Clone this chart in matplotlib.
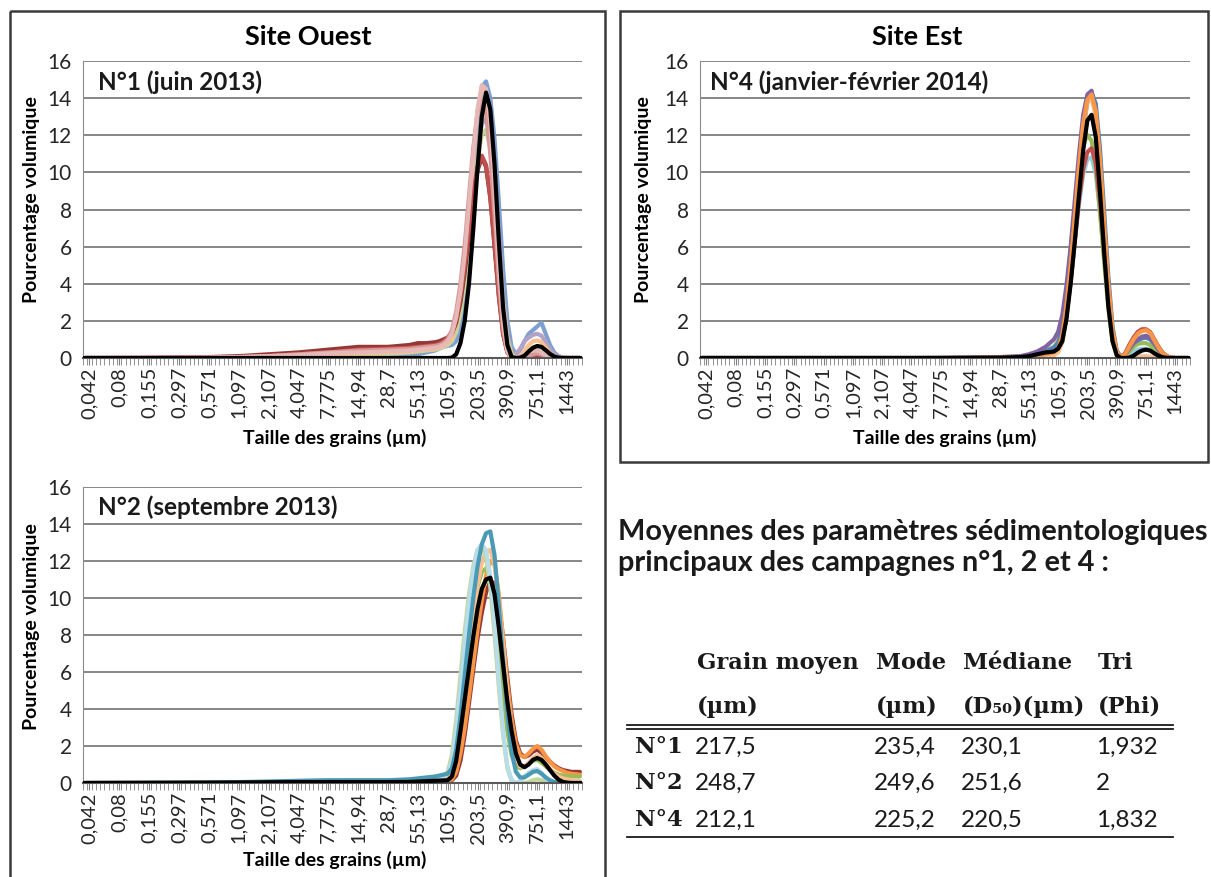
import matplotlib
matplotlib.use("Agg")
import matplotlib.pyplot as plt
from matplotlib.patches import Rectangle

W, H = 1211, 877
plt.rcParams["font.family"] = ["Lato", "DejaVu Sans"]

# grain-size classes on the x axis: 117 classes, one label every 7 classes
size_labels = ["0,042", "0,08", "0,155", "0,297", "0,571", "1,097", "2,107", "4,047",
               "7,775", "14,94", "28,7", "55,13", "105,9", "203,5", "390,9", "751,1", "1443"]
n_classes = 117
label_pos = [1 + 7 * k for k in range(len(size_labels))]

# class indices where the curves are sampled
knots = [0, 15, 29, 36, 43, 50, 57, 64, 71, 76, 78, 80,
         82, 83, 84, 85, 86, 87, 88, 89, 90, 91, 92, 93, 94, 95, 96, 97, 98, 99,
         100, 101, 102, 103, 104, 105, 106, 107, 108, 109, 110, 111, 112, 113, 114, 116]

# --- campagne n°1 (juin 2013), site ouest ---
c1_colors = ["#7F9FCF", "#B3A2C7", "#C3D69B", "#FAC090", "#953735", "#C0504D", "#D99694", "#E6B9B8"]
c1_series = [
    [0, 0, 0, 0, 0.01, 0.02, 0.05, 0.08, 0.1, 0.15, 0.2, 0.3, 0.4, 0.5,
     0.6, 0.65, 0.7, 0.9, 1.6, 3.0, 5.2, 8.2, 11.6, 14.6, 14.9, 14.0, 11.8, 8.4, 4.8, 2.0, 0.6, 0.2, 0.4, 0.9, 1.3, 1.5, 1.7, 1.9, 1.3, 0.7, 0.3, 0.1, 0.03, 0, 0, 0],
    [0, 0, 0, 0.01, 0.02, 0.05, 0.1, 0.15, 0.2, 0.3, 0.4, 0.5, 0.6, 0.7,
     0.8, 0.9, 1.1, 1.6, 2.6, 4.3, 6.6, 9.0, 11.2, 12.6, 12.9, 12.0, 9.8, 6.6, 3.5, 1.3, 0.3, 0.2, 0.5, 0.9, 1.1, 1.25, 1.3, 1.2, 0.85, 0.45, 0.2, 0.06, 0.02, 0, 0, 0],
    [0, 0, 0, 0.02, 0.05, 0.08, 0.12, 0.18, 0.22, 0.3, 0.35, 0.4, 0.45, 0.5,
     0.6, 0.7, 0.9, 1.4, 2.4, 4.0, 6.2, 8.6, 10.7, 12.0, 12.3, 11.3, 9.0, 5.9, 3.0, 1.0, 0.2, 0, 0.1, 0.3, 0.45, 0.55, 0.6, 0.55, 0.35, 0.15, 0.05, 0, 0, 0, 0, 0],
    [0, 0, 0.02, 0.04, 0.08, 0.12, 0.2, 0.25, 0.3, 0.35, 0.4, 0.45, 0.5, 0.55,
     0.65, 0.8, 1.1, 1.9, 3.3, 5.3, 8.0, 10.9, 13.3, 14.5, 14.3, 12.5, 9.2, 5.4, 2.3, 0.6, 0.05, 0, 0.1, 0.4, 0.7, 0.9, 0.95, 0.85, 0.55, 0.25, 0.08, 0.02, 0, 0, 0, 0],
    [0, 0.01, 0.05, 0.1, 0.2, 0.3, 0.45, 0.6, 0.6, 0.7, 0.8, 0.8, 0.85, 0.9,
     1.0, 1.1, 1.3, 1.9, 3.0, 4.6, 6.6, 8.6, 10.1, 10.8, 10.3, 8.6, 6.0, 3.3, 1.3, 0.3, 0, 0, 0, 0, 0.03, 0.08, 0.1, 0.06, 0.02, 0, 0, 0, 0, 0, 0, 0],
    [0, 0, 0.03, 0.06, 0.12, 0.2, 0.3, 0.45, 0.5, 0.55, 0.6, 0.65, 0.7, 0.75,
     0.9, 1.1, 1.4, 2.1, 3.3, 5.0, 7.0, 8.9, 10.3, 10.9, 10.4, 8.7, 6.1, 3.4, 1.3, 0.3, 0, 0, 0, 0, 0.05, 0.15, 0.2, 0.15, 0.05, 0, 0, 0, 0, 0, 0, 0],
    [0, 0, 0.02, 0.05, 0.1, 0.2, 0.3, 0.4, 0.45, 0.5, 0.55, 0.6, 0.65, 0.7,
     0.8, 1.0, 1.5, 2.5, 4.0, 6.1, 8.7, 11.3, 13.2, 13.9, 13.2, 11.0, 7.7, 4.2, 1.6, 0.3, 0, 0, 0, 0.02, 0.1, 0.2, 0.25, 0.2, 0.1, 0.03, 0, 0, 0, 0, 0, 0],
    [0, 0, 0.02, 0.05, 0.1, 0.15, 0.25, 0.3, 0.35, 0.4, 0.45, 0.5, 0.55, 0.6,
     0.7, 0.9, 1.3, 2.2, 3.6, 5.6, 8.2, 11.0, 13.4, 14.7, 14.5, 12.6, 9.0, 5.0, 1.9, 0.4, 0, 0, 0.05, 0.2, 0.35, 0.4, 0.4, 0.3, 0.15, 0.05, 0.02, 0, 0, 0, 0, 0],
]
c1_mean = [0, 0, 0, 0, 0, 0, 0, 0, 0, 0, 0, 0, 0, 0, 0, 0, 0.02, 0.2, 0.8, 2.0, 4.0, 6.9, 10.2, 13.0, 14.3, 13.4, 10.4, 6.3, 2.7, 0.7, 0.05, 0, 0.02, 0.12, 0.35, 0.55, 0.65, 0.6, 0.42, 0.22, 0.08, 0.02, 0, 0, 0, 0]

# --- campagne n°2 (septembre 2013), site ouest ---
c2_colors = ["#953735", "#F79646", "#9BBB59", "#FAC090", "#C3D69B", "#B7DEE8", "#4A9AB5"]
c2_series = [
    [0, 0, 0, 0.01, 0.02, 0.03, 0.04, 0.04, 0.04, 0.05, 0.05, 0.06, 0.07, 0.08, 0.08, 0.1, 0.15, 0.4, 1.2, 2.6, 4.3, 6.1, 7.8, 9.2, 10.3, 10.9, 10.8, 9.7, 7.8, 5.7, 3.7, 2.3, 1.6, 1.4, 1.5, 1.7, 1.8, 1.65, 1.4, 1.15, 0.95, 0.8, 0.7, 0.65, 0.6, 0.6],
    [0, 0, 0.01, 0.02, 0.03, 0.04, 0.05, 0.05, 0.05, 0.05, 0.06, 0.07, 0.08, 0.09, 0.1, 0.1, 0.2, 0.6, 1.6, 3.0, 4.7, 6.5, 8.3, 9.9, 11.2, 12.0, 11.8, 10.2, 7.8, 5.4, 3.4, 2.1, 1.5, 1.4, 1.6, 1.85, 2.0, 1.8, 1.45, 1.15, 0.9, 0.75, 0.65, 0.55, 0.5, 0.45],
    [0, 0.01, 0.02, 0.03, 0.05, 0.07, 0.1, 0.12, 0.12, 0.15, 0.2, 0.22, 0.25, 0.28, 0.3, 0.35, 0.7, 1.8, 3.6, 5.6, 7.6, 9.3, 10.6, 11.4, 11.6, 11.0, 9.4, 7.2, 4.8, 2.8, 1.5, 0.9, 0.8, 0.9, 1.05, 1.2, 1.25, 1.1, 0.9, 0.7, 0.55, 0.45, 0.4, 0.38, 0.36, 0.35],
    [0, 0.01, 0.02, 0.03, 0.05, 0.08, 0.1, 0.12, 0.12, 0.15, 0.18, 0.2, 0.25, 0.28, 0.3, 0.3, 0.5, 1.3, 3.0, 5.0, 7.1, 9.0, 10.7, 11.9, 12.5, 12.6, 11.8, 9.9, 7.4, 4.8, 2.7, 1.4, 0.9, 0.9, 1.1, 1.35, 1.5, 1.35, 1.05, 0.75, 0.5, 0.35, 0.25, 0.2, 0.15, 0.1],
    [0, 0.01, 0.02, 0.04, 0.06, 0.1, 0.12, 0.12, 0.12, 0.15, 0.2, 0.25, 0.3, 0.35, 0.4, 0.6, 1.5, 3.4, 5.8, 8.2, 10.2, 11.7, 12.6, 12.8, 12.2, 10.6, 8.0, 5.2, 2.6, 0.8, 0.1, 0, 0, 0, 0.05, 0.15, 0.2, 0.15, 0.05, 0, 0, 0, 0, 0, 0, 0],
    [0, 0.01, 0.02, 0.03, 0.05, 0.08, 0.1, 0.1, 0.1, 0.12, 0.15, 0.2, 0.25, 0.3, 0.35, 0.5, 1.2, 2.9, 5.2, 7.6, 9.8, 11.5, 12.6, 12.9, 12.6, 11.2, 8.6, 5.6, 2.8, 0.9, 0.15, 0, 0.1, 0.35, 0.55, 0.7, 0.75, 0.55, 0.25, 0.08, 0.02, 0, 0, 0, 0, 0],
    [0, 0.01, 0.03, 0.05, 0.08, 0.12, 0.15, 0.15, 0.15, 0.2, 0.25, 0.3, 0.35, 0.4, 0.45, 0.5, 0.8, 1.8, 3.6, 5.8, 8.0, 10.0, 11.7, 12.9, 13.5, 13.6, 12.3, 9.6, 6.6, 3.8, 1.7, 0.6, 0.3, 0.3, 0.45, 0.6, 0.65, 0.5, 0.3, 0.15, 0.06, 0.02, 0, 0, 0, 0],
]
c2_mean = [0, 0.01, 0.02, 0.03, 0.04, 0.05, 0.05, 0.05, 0.05, 0.06, 0.08, 0.1, 0.12, 0.13, 0.14, 0.15, 0.35, 1.2, 2.8, 4.5, 6.2, 7.9, 9.4, 10.5, 11.0, 11.1, 10.2, 8.4, 6.4, 4.4, 2.8, 1.6, 1.0, 0.85, 1.0, 1.25, 1.35, 1.25, 1.0, 0.7, 0.4, 0.18, 0.06, 0.02, 0, 0]

# --- campagne n°4 (janvier-février 2014), site est ---
c4_colors = ["#93CDDD", "#9BBB59", "#C0504D", "#4F81BD", "#8064A2", "#FAC090", "#F79646"]
c4_series = [
    [0, 0, 0, 0, 0, 0, 0, 0, 0.01, 0.03, 0.06, 0.1, 0.18, 0.22, 0.28, 0.45, 1.1, 2.4, 4.2, 6.3, 8.3, 9.9, 10.7, 10.8, 9.9, 7.9, 5.4, 3.0, 1.1, 0.2, 0, 0.05, 0.2, 0.35, 0.45, 0.5, 0.5, 0.45, 0.3, 0.15, 0.05, 0.01, 0, 0, 0, 0],
    [0, 0, 0, 0, 0, 0, 0.01, 0.02, 0.04, 0.08, 0.15, 0.25, 0.4, 0.5, 0.6, 0.9, 1.9, 3.6, 5.8, 8.1, 10.1, 11.5, 12.0, 11.7, 10.3, 7.9, 5.2, 2.7, 0.9, 0.15, 0, 0.1, 0.35, 0.6, 0.75, 0.8, 0.8, 0.7, 0.5, 0.28, 0.12, 0.04, 0.01, 0, 0, 0],
    [0, 0, 0, 0, 0, 0, 0, 0, 0.01, 0.02, 0.05, 0.08, 0.12, 0.15, 0.2, 0.35, 0.9, 2.2, 4.1, 6.3, 8.5, 10.2, 11.1, 11.3, 10.5, 8.5, 5.9, 3.3, 1.3, 0.3, 0.05, 0.25, 0.7, 1.1, 1.4, 1.55, 1.55, 1.4, 1.0, 0.6, 0.28, 0.1, 0.03, 0, 0, 0],
    [0, 0, 0, 0, 0, 0, 0, 0.01, 0.03, 0.06, 0.12, 0.2, 0.35, 0.45, 0.55, 0.8, 1.5, 2.9, 4.9, 7.4, 10.0, 12.3, 13.8, 14.3, 13.7, 11.3, 7.9, 4.4, 1.7, 0.4, 0.05, 0.2, 0.5, 0.8, 0.95, 1.05, 1.1, 1.0, 0.75, 0.45, 0.2, 0.07, 0.02, 0, 0, 0],
    [0, 0, 0, 0, 0, 0, 0.01, 0.02, 0.05, 0.1, 0.2, 0.35, 0.6, 0.8, 1.0, 1.4, 2.3, 3.9, 6.0, 8.5, 11.0, 13.1, 14.2, 14.4, 13.2, 10.4, 7.0, 3.8, 1.4, 0.3, 0.1, 0.2, 0.5, 0.8, 1.0, 1.15, 1.2, 1.1, 0.8, 0.45, 0.2, 0.07, 0.02, 0, 0, 0],
    [0, 0, 0, 0, 0, 0, 0, 0, 0.01, 0.02, 0.04, 0.06, 0.1, 0.12, 0.15, 0.3, 0.9, 2.4, 4.6, 7.3, 10.0, 12.4, 13.8, 14.0, 13.0, 10.3, 6.8, 3.5, 1.1, 0.15, 0, 0, 0.02, 0.05, 0.08, 0.1, 0.1, 0.08, 0.05, 0.02, 0, 0, 0, 0, 0, 0],
    [0, 0, 0, 0, 0, 0, 0, 0.01, 0.02, 0.04, 0.08, 0.12, 0.2, 0.25, 0.3, 0.5, 1.2, 2.8, 5.0, 7.6, 10.3, 12.6, 13.9, 14.2, 13.3, 10.7, 7.3, 4.0, 1.5, 0.35, 0.05, 0.2, 0.6, 1.0, 1.3, 1.45, 1.5, 1.35, 0.95, 0.55, 0.25, 0.08, 0.02, 0, 0, 0],
]
c4_mean = [0, 0, 0, 0, 0, 0, 0, 0.01, 0.02, 0.05, 0.1, 0.2, 0.3, 0.32, 0.35, 0.5, 0.9, 2.1, 4.0, 6.3, 8.8, 11.2, 12.8, 13.1, 11.9, 9.0, 5.7, 2.8, 0.9, 0.15, 0, 0, 0.02, 0.12, 0.28, 0.4, 0.45, 0.4, 0.25, 0.12, 0.04, 0.01, 0, 0, 0, 0]

# summary table
table_cols = ["Grain moyen", "Mode", "Médiane", "Tri"]
table_units = ["(µm)", "(µm)", "(D₅₀)(µm)", "(Phi)"]
table_rows = ["N°1", "N°2", "N°4"]
table_vals = [["217,5", "235,4", "230,1", "1,932"],
              ["248,7", "249,6", "251,6", "2"],
              ["212,1", "225,2", "220,5", "1,832"]]

fig = plt.figure(figsize=(W / 100, H / 100), dpi=100)

# full-figure layer in pixel units for frames, titles and the table
ov = fig.add_axes([0, 0, 1, 1])
ov.set_xlim(0, W)
ov.set_ylim(H, 0)
ov.axis("off")


def add_chart(left, top, right, bottom, series, colors, mean):
    ax = fig.add_axes([left / W, 1 - bottom / H, (right - left) / W, (bottom - top) / H])
    ax.set_facecolor("none")
    for vals, col in zip(series, colors):
        ax.plot(knots, vals, color=col, lw=3.0, solid_joinstyle="round", solid_capstyle="round")
    ax.plot(knots, mean, color="black", lw=3.0, solid_joinstyle="round", zorder=5)
    ax.set_xlim(-0.5, n_classes - 0.5)
    ax.set_ylim(0, 16)
    ax.set_yticks(range(0, 17, 2))
    ax.yaxis.grid(True, color="#868686", lw=1.4)
    ax.set_axisbelow(True)
    ax.set_xticks(label_pos)
    ax.set_xticklabels(size_labels, rotation=90)
    ax.set_xticks([i - 0.5 for i in range(n_classes + 1)], minor=True)
    ax.tick_params(axis="x", which="major", length=5, color="#808080", pad=1.5,
                   labelsize=14.5, labelcolor="#262626")
    ax.tick_params(axis="x", which="minor", length=5, color="#808080")
    ax.tick_params(axis="y", length=0, pad=8, labelsize=15, labelcolor="#262626")
    for s in ["top", "right"]:
        ax.spines[s].set_visible(False)
    ax.spines["left"].set_color("#8C8C8C")
    ax.spines["bottom"].set_color("#595959")
    ax.spines["bottom"].set_linewidth(1.5)
    return ax


add_chart(83, 61, 582, 358, c1_series, c1_colors, c1_mean)
add_chart(83, 487, 582, 783, c2_series, c2_colors, c2_mean)
add_chart(700, 61, 1190, 358, c4_series, c4_colors, c4_mean)

# frames around the two sites (the west frame runs past the bottom edge)
ov.add_patch(Rectangle((10, 11), 595, 872, fill=False, ec="#3a3a3a", lw=1.8, clip_on=True))
ov.add_patch(Rectangle((620, 11), 588, 451, fill=False, ec="#3a3a3a", lw=1.8))

ov.text(308, 37, "Site Ouest", fontsize=19.5, fontweight="bold", ha="center", va="center")
ov.text(917, 37, "Site Est", fontsize=19.5, fontweight="bold", ha="center", va="center")

note = dict(fontsize=17.5, fontweight="bold", ha="left", va="center", color="#1a1a1a")
ov.text(98, 82, "N°1 (juin 2013)", **note)
ov.text(98, 507, "N°2 (septembre 2013)", **note)
ov.text(710, 82, "N°4 (janvier-février 2014)", **note)

ylab = dict(fontsize=14, fontweight="bold", rotation=90, ha="center", va="center")
ov.text(32, 200, "Pourcentage volumique", **ylab)
ov.text(32, 627, "Pourcentage volumique", **ylab)
ov.text(644, 200, "Pourcentage volumique", **ylab)

xlab = dict(fontsize=14, fontweight="bold", ha="center", va="center")
ov.text(335, 438, "Taille des grains (µm)", **xlab)
ov.text(335, 860, "Taille des grains (µm)", **xlab)
ov.text(945, 438, "Taille des grains (µm)", **xlab)

ov.text(618, 532, "Moyennes des paramètres sédimentologiques", fontsize=20.8,
        fontweight="bold", ha="left", va="center", color="#1a1a1a")
ov.text(618, 563, "principaux des campagnes n°1, 2 et 4 :", fontsize=20.8,
        fontweight="bold", ha="left", va="center", color="#1a1a1a")

# table
col_x = [697, 876, 963, 1098]
serif_b = dict(family="DejaVu Serif", fontweight="bold", fontsize=16.3, va="center", ha="left",
               color="#1a1a1a")
for x, name, unit in zip(col_x, table_cols, table_units):
    ov.text(x, 663, name, **serif_b)
    ov.text(x, 707, unit, **serif_b)
ov.plot([627, 1173], [725, 725], color="#1a1a1a", lw=1.3)
ov.plot([627, 1173], [728.5, 728.5], color="#1a1a1a", lw=1.3)
row_y = [747, 783, 820]
for y, name, vals in zip(row_y, table_rows, table_vals):
    ov.text(635, y, name, **serif_b)
    for x, v in zip(col_x, vals):
        ov.text(x - 2, y, v, fontsize=17.5, ha="left", va="center", color="#1a1a1a")
ov.plot([627, 1173], [837, 837], color="#1a1a1a", lw=1.3)

fig.savefig("out.png", dpi=100)
